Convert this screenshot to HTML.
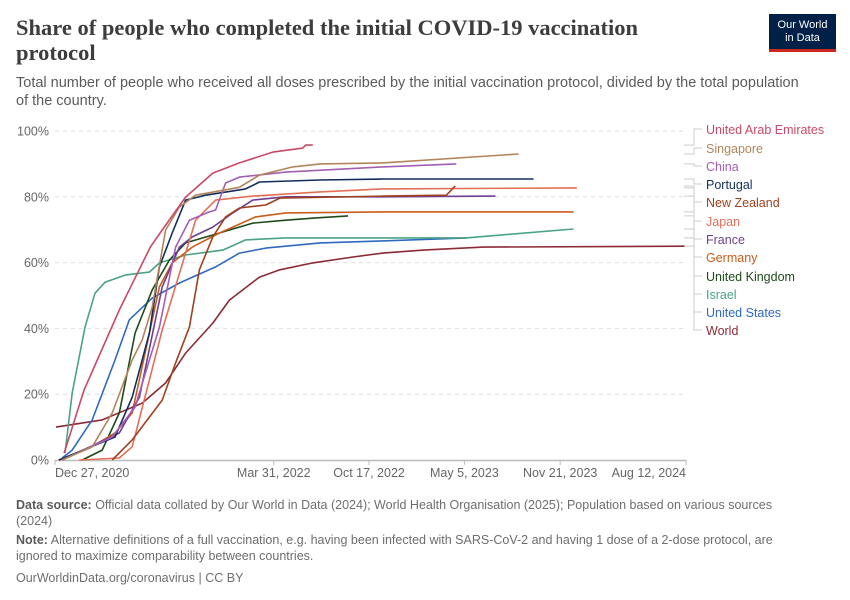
<!DOCTYPE html>
<html><head><meta charset="utf-8"><style>
body{margin:0;background:#fff;font-family:"Liberation Sans",sans-serif;}
#wrap{position:relative;width:850px;height:600px;overflow:hidden;}
.t{position:absolute;}
</style></head><body>
<div id="wrap">
<div class="t" style="left:16px;top:15px;width:700px;font-family:'Liberation Serif',serif;font-weight:bold;font-size:22.5px;line-height:25px;color:#3d3d3d;">Share of people who completed the initial COVID-19 vaccination protocol</div>
<div class="t" style="left:16px;top:74px;width:792px;font-size:14.5px;line-height:18px;color:#5b5b5b;">Total number of people who received all doses prescribed by the initial vaccination protocol, divided by the total population of the country.</div>
<div class="t" style="left:769px;top:14px;width:67px;height:38px;background:#002147;border-bottom:3px solid #ce261e;box-sizing:border-box;color:#fff;font-size:11px;line-height:13px;text-align:center;padding-top:5px;">Our World<br>in Data</div>
<svg class="t" style="left:0;top:0" width="850" height="600" id="svg"></svg>
<div class="t" style="left:16px;top:498px;width:780px;font-size:12.5px;line-height:15.5px;color:#6e6e6e;"><b style="font-weight:bold;color:#5b5b5b">Data source:</b> Official data collated by Our World in Data (2024); World Health Organisation (2025); Population based on various sources (2024)</div>
<div class="t" style="left:16px;top:533px;width:800px;font-size:12.5px;line-height:15.5px;color:#6e6e6e;"><b style="font-weight:bold;color:#5b5b5b">Note:</b> Alternative definitions of a full vaccination, e.g. having been infected with SARS-CoV-2 and having 1 dose of a 2-dose protocol, are ignored to maximize comparability between countries.</div>
<div class="t" style="left:16px;top:571px;font-size:12.5px;color:#6e6e6e;">OurWorldinData.org/coronavirus | CC BY</div>
</div>
<script>
const names=["United Arab Emirates","Singapore","China","Portugal","New Zealand","Japan","France","Germany","United Kingdom","Israel","United States","World"];
const colors=["#c84968","#b3845a","#a45eb4","#132e5b","#a0411e","#e36f55","#6d3e91","#c95d1a","#1e4a1a","#4aa385","#2f6ac0","#8c2a35"];
const labelY=[133,152,170,188,206,225,243,261,280,298,316,334];
const yTicks=[0,20,40,60,80,100];
const xTickDays=[0,459,659,859,1060,1324];
const xTickLabels=["Dec 27, 2020","Mar 31, 2022","Oct 17, 2022","May 5, 2023","Nov 21, 2023","Aug 12, 2024"];
const uaeD=[19,61,135,200,225,274,331,387,457,520,526,541];
const uaeV=[2.1,21.3,45.6,64.7,69.9,79.9,87.2,90.3,93.6,94.8,95.7,95.7];
const sgpD=[15,78,120,162,183,204,232,261,295,387,429,499,556,688,973];
const sgpV=[0,4,14.3,30.4,36.5,46.5,69.9,76.9,80.5,82.9,86.6,89.1,90,90.3,93];
const chnD=[15,120,168,219,253,282,324,337,358,387,484,688,842];
const chnV=[0,7,16.1,40.4,64.7,72.9,75.4,76,84.2,86,87.5,89.1,90];
const prtD=[8,126,162,198,219,246,274,316,400,429,556,688,1004];
const prtV=[0,7,19.1,38.6,58.7,69,79,80.5,82.4,84.5,85.1,85.4,85.4];
const nzlD=[120,162,225,253,282,303,331,358,387,442,472,688,821,840];
const nzlV=[0,6.1,18.2,29.5,40.4,57.8,67.8,73.9,76.6,77.5,79.6,80.2,80.5,83.3];
const jpnD=[51,135,162,225,274,295,337,415,556,688,1095];
const jpnV=[0,0.6,4,39.5,62.9,72.9,79,80.2,81.5,82.4,82.7];
const fraD=[15,135,177,225,261,288,331,373,415,484,688,924];
const fraV=[0,8.2,19.1,52.6,64.7,67.8,70.8,75.1,79,80,80,80.2];
const deuD=[8,72,126,162,189,219,246,288,345,373,421,484,688,1088];
const deuV=[0,3.6,8.2,14.3,32.5,52.6,59.9,64.7,69,70.8,73.9,75.1,75.4,75.4];
const gbrD=[57,99,135,168,204,240,274,331,366,415,484,547,615];
const gbrV=[0,3,14.3,38.6,51.7,60.8,66,68.4,69.9,72,72.9,73.6,74.2];
const isrD=[21,36,63,84,105,147,198,219,274,352,400,484,863,1088];
const isrV=[2.1,20.4,40.4,50.7,54,56.2,57.1,59.9,62.3,63.8,66.9,67.5,67.5,70.2];
const usaD=[15,36,78,126,156,204,261,337,387,442,556,688,863];
const usaV=[0.6,3,12.2,30.4,42.6,49.2,53.8,58.7,62.9,64.4,66,66.6,67.5];
const wldD=[2,99,183,232,274,331,366,429,472,541,625,688,773,899,1322];
const wldV=[10,12.2,17.3,23.4,32.5,41.6,48.6,55.6,57.8,59.9,61.7,62.9,63.8,64.7,65];
const seriesD=[uaeD,sgpD,chnD,prtD,nzlD,jpnD,fraD,deuD,gbrD,isrD,usaD,wldD];
const seriesV=[uaeV,sgpV,chnV,prtV,nzlV,jpnV,fraV,deuV,gbrV,isrV,usaV,wldV];

const X0=55,X1=686,DMAX=1324,Y0=460,Y1=131;
const sx=d=>X0+(X1-X0)*d/DMAX;
const sy=v=>Y0-(Y0-Y1)*v/100;
const svg=document.getElementById('svg');
const NS='http://www.w3.org/2000/svg';
function mk(tag,attrs){const e=document.createElementNS(NS,tag);for(const k in attrs)e.setAttribute(k,attrs[k]);svg.appendChild(e);return e;}
yTicks.forEach(t=>{
  if(t>0){const g=mk('line',{x1:X0,x2:X1,y1:sy(t),y2:sy(t),stroke:'#ddd','stroke-dasharray':'4,4'});
  
  }
  const l=mk('text',{x:X0-6,y:sy(t)+4.5,'text-anchor':'end','font-size':'12.5',fill:'#666','font-family':'Liberation Sans, sans-serif'});
  l.textContent=t+'%';
  
  
});
const ax=mk('line',{x1:X0,x2:X1,y1:Y0+0.5,y2:Y0+0.5,stroke:'#bbb','stroke-width':1.5});


xTickDays.forEach((d,i)=>{
  const tk=mk('line',{x1:sx(d),x2:sx(d),y1:Y0,y2:Y0+5,stroke:'#bbb'});
  
  
  const l=mk('text',{x:sx(d),y:Y0+17,'text-anchor':i==0?'start':(i==xTickDays.length-1?'end':'middle'),'font-size':'12.5',fill:'#666','font-family':'Liberation Sans, sans-serif'});
  l.textContent=xTickLabels[i];
  
  
});
for(let s=seriesD.length-1;s>=0;s--){
  const pts=seriesD[s].map((d,i)=>sx(d).toFixed(1)+','+sy(seriesV[s][i]).toFixed(1)).join(' ');
  const p=mk('polyline',{points:pts,fill:'none',stroke:colors[s],'stroke-width':1.6,'stroke-linejoin':'round'});
  
  
}
names.forEach((n,s)=>{
  const V=seriesV[s];
  const ey=sy(V[V.length-1]);
  const ly=labelY[s]-4;
  const c=mk('polyline',{points:`${X1-2},${ey} ${X1+8},${ey} ${X1+8},${ly} ${X1+16},${ly}`,fill:'none',stroke:'#ccc','stroke-width':1});
  
  
  const t=mk('text',{x:706,y:labelY[s]+1,'font-size':'12.5',fill:colors[s],'font-family':'Liberation Sans, sans-serif'});
  t.textContent=n;
  
  
});
</script>
</body></html>
